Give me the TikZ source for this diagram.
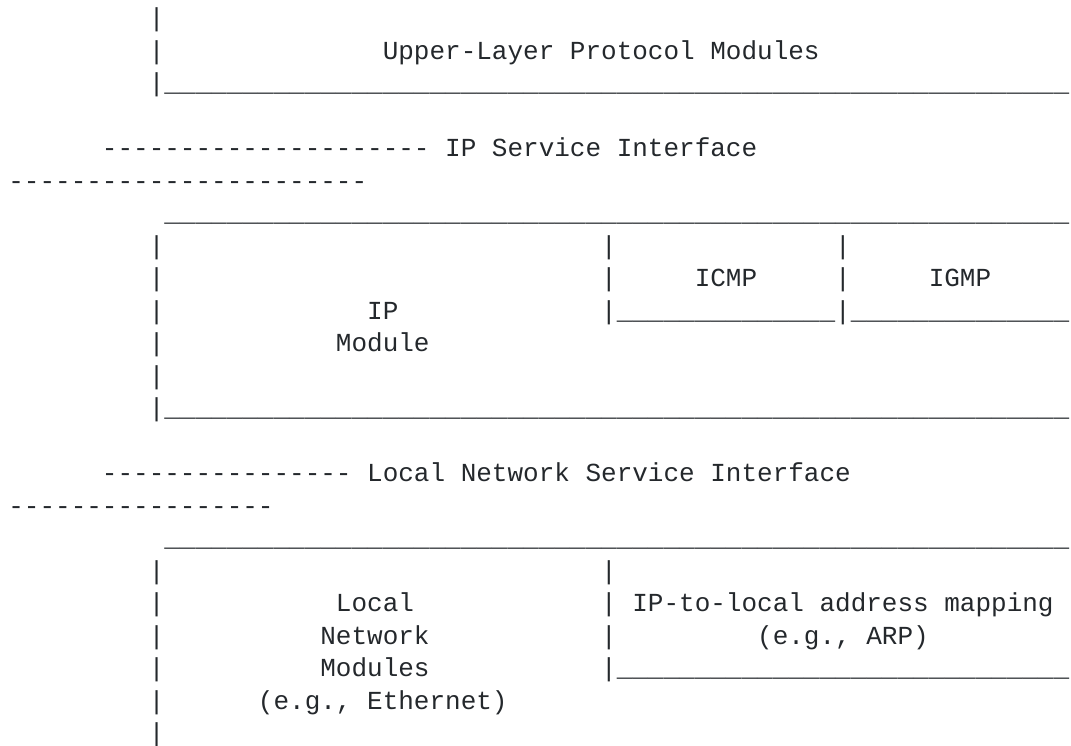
\documentclass[tikz,border=0pt]{standalone}
\usepackage{fontspec}
\setmonofont{Liberation Mono}
\definecolor{ink}{RGB}{36,40,44}
\newcommand\rep[2]{\foreach \ii in {1,...,#1}{#2}}
\tikzset{
  txt/.style={anchor=base west, inner sep=0pt, outer sep=0pt,
    font=\ttfamily\fontsize{26}{32.5}\selectfont, text=ink}
}
\begin{document}
\begin{tikzpicture}[x=1pt,y=1pt]
\useasboundingbox (0,0) rectangle (1071,-745);
\begin{scope}[shift={(8.35pt,-26.8pt)}, x=15.6pt, y=-32.5pt]
% upper layer
\node[txt] (r0)  at (9,0) {|};
\node[txt] (r1a) at (9,1) {|};
\node[txt] (r1b) at (24,1) {Upper-Layer Protocol Modules};
\node[txt] (r2)  at (9,2) {|\rep{58}{\_}};
% IP service interface
\node[txt] (r4)  at (6,4) {\rep{21}{-} IP Service Interface};
\node[txt] (r5)  at (0,5) {\rep{23}{-}};
% IP module box
\node[txt] (r6)  at (10,6) {\rep{58}{\_}};
\node[txt] (r7a) at (9,7) {|};
\node[txt] (r7b) at (38,7) {|};
\node[txt] (r7c) at (53,7) {|};
\node[txt] (r8a) at (9,8) {|};
\node[txt] (r8b) at (38,8) {|};
\node[txt] (icmp) at (44,8) {ICMP};
\node[txt] (r8c) at (53,8) {|};
\node[txt] (igmp) at (59,8) {IGMP};
\node[txt] (r9a) at (9,9) {|};
\node[txt] (ip)  at (23,9) {IP};
\node[txt] (r9b) at (38,9) {|\rep{14}{\_}|\rep{14}{\_}};
\node[txt] (r10a) at (9,10) {|};
\node[txt] (mod) at (21,10) {Module};
\node[txt] (r11) at (9,11) {|};
\node[txt] (r12) at (9,12) {|\rep{58}{\_}};
% local network service interface
\node[txt] (r14) at (6,14) {\rep{16}{-} Local Network Service Interface};
\node[txt] (r15) at (0,15) {\rep{17}{-}};
% local network box
\node[txt] (r16) at (10,16) {\rep{58}{\_}};
\node[txt] (r17a) at (9,17) {|};
\node[txt] (r17b) at (38,17) {|};
\node[txt] (r18a) at (9,18) {|};
\node[txt] (loc) at (21,18) {Local};
\node[txt] (r18b) at (38,18) {|};
\node[txt] (map) at (40,18) {IP-to-local address mapping};
\node[txt] (r19a) at (9,19) {|};
\node[txt] (net) at (20,19) {Network};
\node[txt] (r19b) at (38,19) {|};
\node[txt] (arp) at (48,19) {(e.g., ARP)};
\node[txt] (r20a) at (9,20) {|};
\node[txt] (mods) at (20,20) {Modules};
\node[txt] (r20b) at (38,20) {|\rep{29}{\_}};
\node[txt] (r21a) at (9,21) {|};
\node[txt] (eth) at (16,21) {(e.g., Ethernet)};
\node[txt] (r22) at (9,22) {|};
\end{scope}
\end{tikzpicture}
\end{document}
